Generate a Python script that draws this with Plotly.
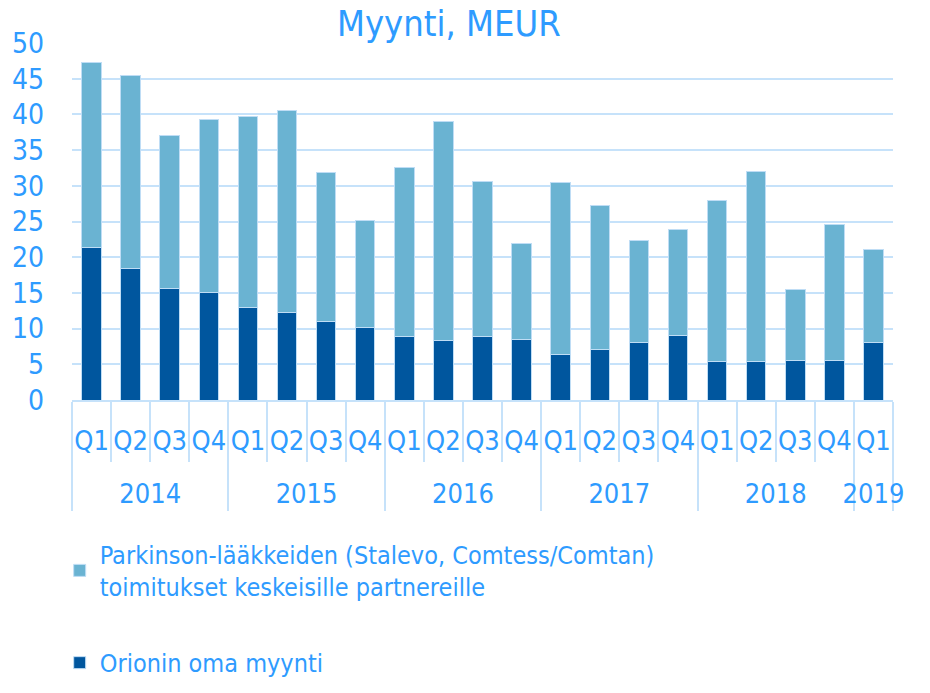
import plotly.graph_objects as go

years = ["2014"] * 4 + ["2015"] * 4 + ["2016"] * 4 + ["2017"] * 4 + ["2018"] * 4 + ["2019"]
quarters = ["Q1", "Q2", "Q3", "Q4"] * 5 + ["Q1"]

# totals (MEUR)
total = [47.2, 45.5, 37.1, 39.3, 39.7, 40.5, 31.9, 25.2, 32.6, 39.0, 30.6,
         21.9, 30.4, 27.2, 22.3, 23.9, 27.9, 32.0, 15.5, 24.6, 21.1]
own_sales = [21.3, 18.45, 15.6, 15.0, 12.9, 12.2, 10.95, 10.1, 8.85, 8.4, 8.9,
             8.45, 6.4, 7.1, 8.0, 9.0, 5.35, 5.45, 5.6, 5.6, 8.0]
parkinson = [round(t - o, 2) for t, o in zip(total, own_sales)]

name_parkinson = "Parkinson-lääkkeiden (Stalevo, Comtess/Comtan)<br>toimitukset keskeisille partnereille"
name_own = "Orionin oma myynti"

# an empty second line pushes the year row further down
q_labels = [q + "<br><span style='font-size:28px'>&nbsp;</span>" for q in quarters]

TXT = "#2E9BFF"
GRID = "#C6E2FA"
FONT = "DejaVu Sans Condensed"

fig = go.Figure()
fig.add_trace(go.Bar(
    x=[years, q_labels], y=own_sales, name=name_own,
    marker=dict(color="#00569E", line=dict(color="#BFDDF5", width=1)),
    legend="legend2",
))
fig.add_trace(go.Bar(
    x=[years, q_labels], y=parkinson, name=name_parkinson,
    marker=dict(color="#6AB3D2", line=dict(color="#BFDDF5", width=1)),
    legend="legend",
))

fig.update_layout(
    width=930, height=693,
    barmode="stack", bargap=0.5,
    plot_bgcolor="white", paper_bgcolor="white",
    margin=dict(l=64, r=45, t=35, b=301),
    font=dict(family=FONT, color=TXT, size=28),
    title=dict(text="Myynti, MEUR", x=0.474, xanchor="center", y=0.978, yanchor="middle",
               font=dict(size=36, color=TXT)),
    legend=dict(x=-0.015, y=-0.368, xanchor="left", yanchor="top",
                font=dict(size=25, color=TXT), bgcolor="rgba(0,0,0,0)"),
    legend2=dict(x=-0.015, y=-0.672, xanchor="left", yanchor="top",
                 font=dict(size=25, color=TXT), bgcolor="rgba(0,0,0,0)"),
    showlegend=True,
)
fig.update_yaxes(range=[0, 50], dtick=5, showgrid=True, gridcolor=GRID, gridwidth=2,
                 zeroline=False, ticks="", ticklabelstandoff=27, automargin=False,
                 tickfont=dict(size=28, color=TXT))
fig.update_xaxes(type="multicategory", showgrid=False, ticks="outside", tickson="boundaries",
                 ticklen=60, tickcolor=GRID, tickwidth=2, showdividers=True, tickangle=0,
                 ticklabelstandoff=16, dividercolor=GRID, dividerwidth=2, showline=True,
                 linecolor=GRID, linewidth=2, automargin=False,
                 tickfont=dict(size=27, color=TXT))

fig.write_html("out.html")
